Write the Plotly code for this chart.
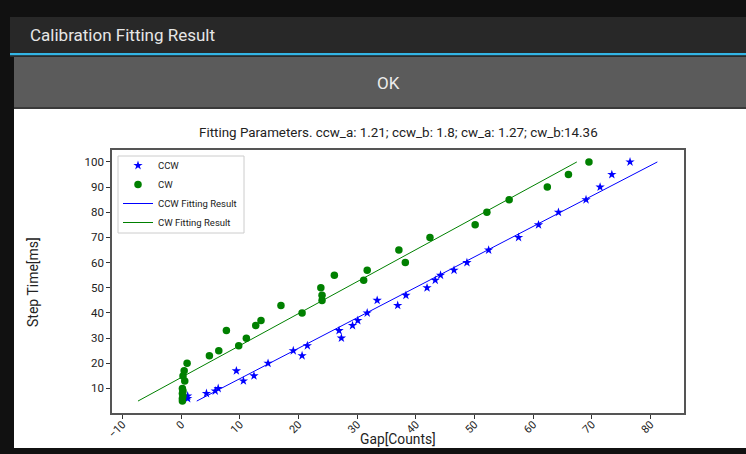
import plotly.graph_objects as go

# ---- data ----
ccw_x = [1.1, 1.1, 4.3, 5.8, 6.3, 10.6, 12.4, 9.4, 14.8, 20.6, 19.1, 21.5, 27.3, 26.9, 29.2, 30.1,
         31.7, 36.9, 33.4, 38.3, 41.9, 43.3, 44.2, 46.5, 48.7, 52.4, 57.5, 60.9, 64.3, 69.0, 71.4, 73.4, 76.5]
ccw_y = [6, 7, 8, 9, 10, 13, 15, 17, 20, 23, 25, 27, 30, 33, 35, 37,
         40, 43, 45, 47, 50, 53, 55, 57, 60, 65, 70, 75, 80, 85, 90, 95, 100]
cw_x = [0.2, 0.2, 0.3, 0.2, 0.3, 0.2, 0.6, 0.3, 0.5, 1.0, 4.8, 6.4, 9.8, 11.1, 7.7, 12.7, 13.6,
        20.6, 17.0, 24.0, 24.0, 23.8, 31.1, 26.1, 31.7, 38.2, 37.1, 42.4, 50.1, 52.1, 55.9, 62.4, 66.0, 69.5]
cw_y = [5, 6, 7, 8, 9, 10, 13, 15, 17, 20, 23, 25, 27, 30, 33, 35, 37,
        40, 43, 45, 47, 50, 53, 55, 57, 60, 65, 70, 75, 80, 85, 90, 95, 100]
ccw_a, ccw_b = 1.21, 1.8
cw_a, cw_b = 1.27, 14.36
fit_y = [5, 100]
x_ticks = [-10, 0, 10, 20, 30, 40, 50, 60, 70, 80]
y_ticks = [10, 20, 30, 40, 50, 60, 70, 80, 90, 100]

ccw_fit_x = [(y - ccw_b) / ccw_a for y in fit_y]
cw_fit_x = [(y - cw_b) / cw_a for y in fit_y]

W, H = 746, 454
L, R, T, B = 112, 684, 150, 413


def px(x):
    return (x - L) / (R - L)


def py(y):
    return (B - y) / (B - T)


FONT = "Roboto"

fig = go.Figure()
fig.add_trace(go.Scatter(x=ccw_x, y=ccw_y, mode="markers", name="CCW",
                         marker=dict(symbol="star", size=7, color="#0000ff", line=dict(width=0))))
fig.add_trace(go.Scatter(x=cw_x, y=cw_y, mode="markers", name="CW",
                         marker=dict(symbol="circle", size=7.5, color="#008000", line=dict(width=0))))
fig.add_trace(go.Scatter(x=ccw_fit_x, y=fit_y, mode="lines", name="CCW Fitting Result",
                         line=dict(color="#0000ff", width=1)))
fig.add_trace(go.Scatter(x=cw_fit_x, y=fit_y, mode="lines", name="CW Fitting Result",
                         line=dict(color="#008000", width=1)))

shapes = []


def rect(x0, y0, x1, y1, color, layer="below", border=None):
    shapes.append(dict(type="rect", xref="paper", yref="paper", layer=layer,
                       x0=px(x0), x1=px(x1), y0=py(y1), y1=py(y0),
                       fillcolor=color,
                       line=dict(width=1 if border else 0, color=border or color)))


rect(0, 0, W, H, "#111111")
rect(10, 17, W, 53, "#282828")
rect(10, 53, W, 55.5, "#33b5e5")
rect(10, 55.5, W, 57, "#2a2a2a")
rect(14, 57, W, 107, "#5b5b5b")
rect(14, 107, W, 109, "#3a3a3a")
rect(14, 109, W, 448, "#ffffff")
# legend frame
rect(118, 156, 244, 233, "#ffffff", layer="above", border="#cccccc")

annotations = [
    dict(text="Calibration Fitting Result", x=px(28), y=py(35), xref="paper", yref="paper",
         xanchor="left", yanchor="middle", showarrow=False,
         font=dict(family=FONT, size=17, color="#e6e6e6")),
    dict(text="OK", x=px(388), y=py(83), xref="paper", yref="paper",
         xanchor="center", yanchor="middle", showarrow=False,
         font=dict(family=FONT, size=17, color="#ececec")),
    dict(text="Fitting Parameters. ccw_a: 1.21; ccw_b: 1.8; cw_a: 1.27; cw_b:14.36",
         x=px(398), y=py(132), xref="paper", yref="paper",
         xanchor="center", yanchor="middle", showarrow=False,
         font=dict(family=FONT, size=13.4, color="#222222")),
    dict(text="Step Time[ms]", x=px(33), y=py(282), xref="paper", yref="paper",
         xanchor="center", yanchor="middle", showarrow=False, textangle=-90,
         font=dict(family=FONT, size=14, color="#222222")),
    dict(text="Gap[Counts]", x=px(398), y=py(439), xref="paper", yref="paper",
         xanchor="center", yanchor="middle", showarrow=False,
         font=dict(family=FONT, size=13.8, color="#222222")),
]

fig.update_layout(
    width=W, height=H,
    margin=dict(l=L, r=W - R, t=T, b=H - B, pad=0, autoexpand=False),
    paper_bgcolor="#111111", plot_bgcolor="#ffffff",
    shapes=shapes, annotations=annotations,
    showlegend=True,
    legend=dict(x=px(118), y=py(151), xanchor="left", yanchor="top",
                bgcolor="rgba(0,0,0,0)", borderwidth=0,
                font=dict(family=FONT, size=9.5, color="#222222"),
                tracegroupgap=0, itemwidth=30),
    font=dict(family=FONT),
)
fig.update_xaxes(range=[-11.8, 85.7], tickvals=x_ticks, tickangle=-45, automargin=False,
                 showgrid=False, zeroline=False, showline=True, linecolor="#555555", linewidth=1.5,
                 mirror=True, ticks="outside", ticklen=4, tickcolor="#333333",
                 ticklabelstandoff=-5,
                 tickfont=dict(family=FONT, size=11, color="#222222"))
fig.update_yaxes(range=[0.25, 104.75], tickvals=y_ticks, automargin=False,
                 showgrid=False, zeroline=False, showline=True, linecolor="#555555", linewidth=1.5,
                 mirror=True, ticks="outside", ticklen=4, tickcolor="#333333",
                 tickfont=dict(family=FONT, size=11.5, color="#222222"))

post = ("document.body.style.margin='0';document.body.style.overflow='hidden';"
        "document.body.style.background='#111111';"
        "var d=document.getElementById('{plot_id}');"
        "d.style.position='fixed';d.style.left='0px';d.style.top='0px';")
fig.write_html("out.html", post_script=post, config={"displayModeBar": False})
